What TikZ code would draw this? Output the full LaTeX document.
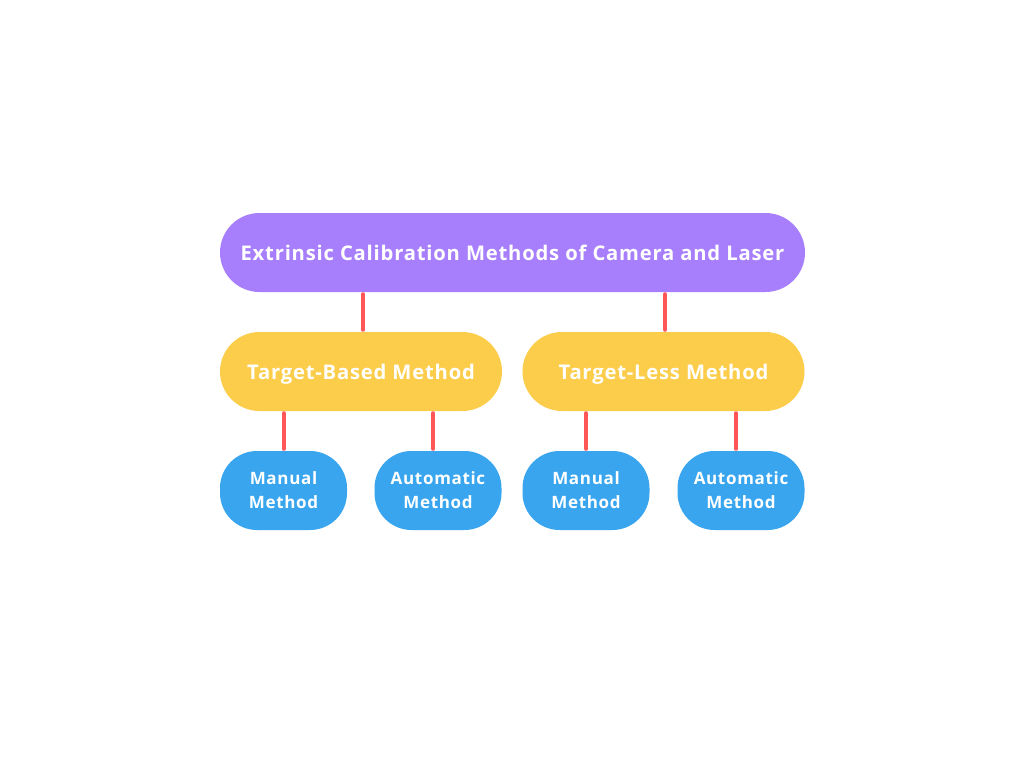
\documentclass[tikz,border=0pt]{standalone}
\usepackage{fontspec}
\newfontfamily\boxfont[LetterSpace=4]{Open Sans}
\usepackage{tikz}
\usetikzlibrary{positioning}

\definecolor{toppurple}{HTML}{A77FFC}
\definecolor{midyellow}{HTML}{FBCD4B}
\definecolor{leafblue}{HTML}{38A5EE}
\definecolor{linkred}{HTML}{FF5757}

\tikzset{
  rootbox/.style={fill=toppurple, rounded corners=39.5pt,
    minimum width=585pt, minimum height=79pt, inner sep=0pt,
    text=white, font=\boxfont\bfseries\fontsize{20.2}{24}\selectfont},
  methodbox/.style={rootbox, fill=midyellow, minimum width=282pt,
    text height=18pt, text depth=3pt},
  leafbox/.style={rootbox, fill=leafblue, minimum width=127pt,
    rounded corners=37pt, align=center,
    font=\boxfont\bfseries\fontsize{17}{24}\selectfont},
  link/.style={draw=linkred, line width=4pt, line cap=round,
    shorten <=2pt, shorten >=2pt}
}

\begin{document}
\begin{tikzpicture}[x=1pt,y=-1pt]
  \useasboundingbox (0,0) rectangle (1024,768);

  % top and second row
  \node[rootbox] (root) at (512.5,252.5) {Extrinsic Calibration Methods of Camera and Laser};
  \node[methodbox] (based) at (361,371.5) {Target-Based Method};
  \node[methodbox] (less) at (663.5,371.5) {Target-Less Method};

  % leaves
  \node[leafbox] (bman) at (283.5,490.5) {Manual\\Method};
  \node[leafbox] (baut) at (438,490.5) {Automatic\\Method};
  \node[leafbox] (lman) at (586,490.5) {Manual\\Method};
  \node[leafbox] (laut) at (741,490.5) {Automatic\\Method};

  % connectors
  \draw[link] ([xshift=2pt]based.north |- root.south) -- ([xshift=2pt]based.north);
  \draw[link] ([xshift=1.5pt]less.north |- root.south) -- ([xshift=1.5pt]less.north);
  \draw[link] (bman.north |- based.south) -- (bman.north);
  \draw[link] ([xshift=-5pt]baut.north |- based.south) -- ([xshift=-5pt]baut.north);
  \draw[link] (lman.north |- less.south) -- (lman.north);
  \draw[link] ([xshift=-5pt]laut.north |- less.south) -- ([xshift=-5pt]laut.north);
\end{tikzpicture}
\end{document}
